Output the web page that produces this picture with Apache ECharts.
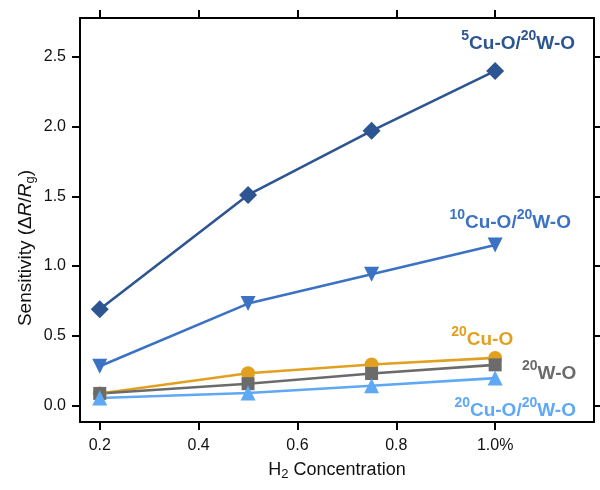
<!DOCTYPE html>
<html><head><meta charset="utf-8">
<script src="https://cdn.jsdelivr.net/npm/echarts@6/dist/echarts.min.js"></script>
<style>html,body{margin:0;padding:0;background:#fff}#c{width:600px;height:490px}</style>
</head><body><div id="c"></div>
<script>
const concentrations = [0.2, 0.5, 0.75, 1.0];
const cu5w20 = [0.69, 1.51, 1.97, 2.40];
const cu10w20 = [0.28, 0.73, 0.94, 1.15];
const cu20 = [0.085, 0.23, 0.293, 0.340];
const w20 = [0.085, 0.155, 0.228, 0.290];
const cu20w20 = [0.052, 0.088, 0.140, 0.195];
const xTicks = [0.2, 0.4, 0.6, 0.8, 1.0];
const xTickLabels = ['0.2', '0.4', '0.6', '0.8', '1.0%'];
const yTicks = [0, 0.5, 1.0, 1.5, 2.0, 2.5];

const FONT = 'Liberation Sans, Arial, sans-serif';
const rich = (color) => ({
  s: {fontSize: 14, fontWeight: 'bold', color, fontFamily: FONT, verticalAlign: 'top', lineHeight: 24},
  m: {fontSize: 19, fontWeight: 'bold', color, fontFamily: FONT, verticalAlign: 'bottom', lineHeight: 24}
});
const pairs = (ys) => concentrations.map((x, i) => [x, ys[i]]);

function mk(name, ys, color, symbol, size, labelText, offset) {
  return {
    name, type: 'line', data: pairs(ys), symbol, symbolSize: size,
    lineStyle: {color, width: 2.6}, itemStyle: {color},
    label: {
      show: true,
      formatter: (p) => p.dataIndex === concentrations.length - 1 ? labelText : '',
      position: 'inside', offset, rich: rich(color)
    },
    z: 3
  };
}

const axisLine = {show: true, onZero: false, lineStyle: {color: '#000', width: 2}};
const tickStyle = {color: '#000', width: 2};
const chart = echarts.init(document.getElementById('c'));
chart.setOption({
  animation: false,
  grid: {left: 80, right: 6, top: 18, bottom: 68},
  graphic: [{
    type: 'text', x: 26, y: 248, rotation: Math.PI / 2,
    style: {
      text: '{n|Sensitivity (Δ}{i|R}{n|/}{i|R}{sub|g}{n|)}',
      align: 'center', verticalAlign: 'middle',
      rich: {
        n: {fontSize: 19, fill: '#111', fontFamily: FONT},
        i: {fontSize: 19, fill: '#111', fontFamily: FONT, fontStyle: 'italic'},
        sub: {fontSize: 13, fill: '#111', fontFamily: FONT, padding: [9, 0, 0, 0]}
      }
    }
  }],
  xAxis: [{
    type: 'value', min: 0.16, max: 1.2, position: 'bottom',
    axisLine, splitLine: {show: false},
    axisTick: {show: true, customValues: xTicks, length: 8, lineStyle: tickStyle},
    axisLabel: {customValues: xTicks, formatter: (v) => xTickLabels[xTicks.findIndex(t => Math.abs(t - v) < 1e-6)] ?? '', color: '#111', fontSize: 16, fontFamily: FONT, margin: 16},
    name: '{n|H}{sub|2}{n| Concentration}', nameLocation: 'middle', nameGap: 37,
    nameTextStyle: {rich: {n: {fontSize: 18, color: '#111', fontFamily: FONT}, sub: {fontSize: 13, color: '#111', fontFamily: FONT, verticalAlign: 'bottom', padding: [9, 0, 0, 0]}}}
  }, {
    type: 'value', min: 0.16, max: 1.2, position: 'top',
    axisLine, splitLine: {show: false},
    axisTick: {show: true, customValues: xTicks, length: 8, lineStyle: tickStyle},
    axisLabel: {show: false}
  }],
  yAxis: [{
    type: 'value', min: -0.12, max: 2.78, position: 'left',
    axisLine, splitLine: {show: false},
    axisTick: {show: true, customValues: yTicks, length: 8, lineStyle: tickStyle},
    axisLabel: {customValues: yTicks, formatter: (v) => v.toFixed(1), color: '#111', fontSize: 16, fontFamily: FONT, margin: 14}
  }, {
    type: 'value', min: -0.12, max: 2.78, position: 'right',
    axisLine, splitLine: {show: false},
    axisTick: {show: true, customValues: yTicks, length: 6, lineStyle: tickStyle},
    axisLabel: {show: false}
  }],
  series: [
    mk('5Cu-O/20W-O', cu5w20, '#2D5592', 'diamond', 18, '{s|5}{m|Cu-O/}{s|20}{m|W-O}', [23, -30]),
    mk('10Cu-O/20W-O', cu10w20, '#3B72C4', 'triangle', 15, '{s|10}{m|Cu-O/}{s|20}{m|W-O}', [15, -25]),
    mk('20Cu-O', cu20, '#E2A021', 'circle', 14, '{s|20}{m|Cu-O}', [-13, -21]),
    mk('20W-O', w20, '#6B6B6B', 'rect', 13, '{s|20}{m|W-O}', [54, 6]),
    mk('20Cu-O/20W-O', cu20w20, '#5EA8F4', 'triangle', 15, '{s|20}{m|Cu-O/}{s|20}{m|W-O}', [20, 30])
  ].map((s, i) => i === 1 ? Object.assign(s, {symbolRotate: 180}) : s)
});
</script></body></html>
